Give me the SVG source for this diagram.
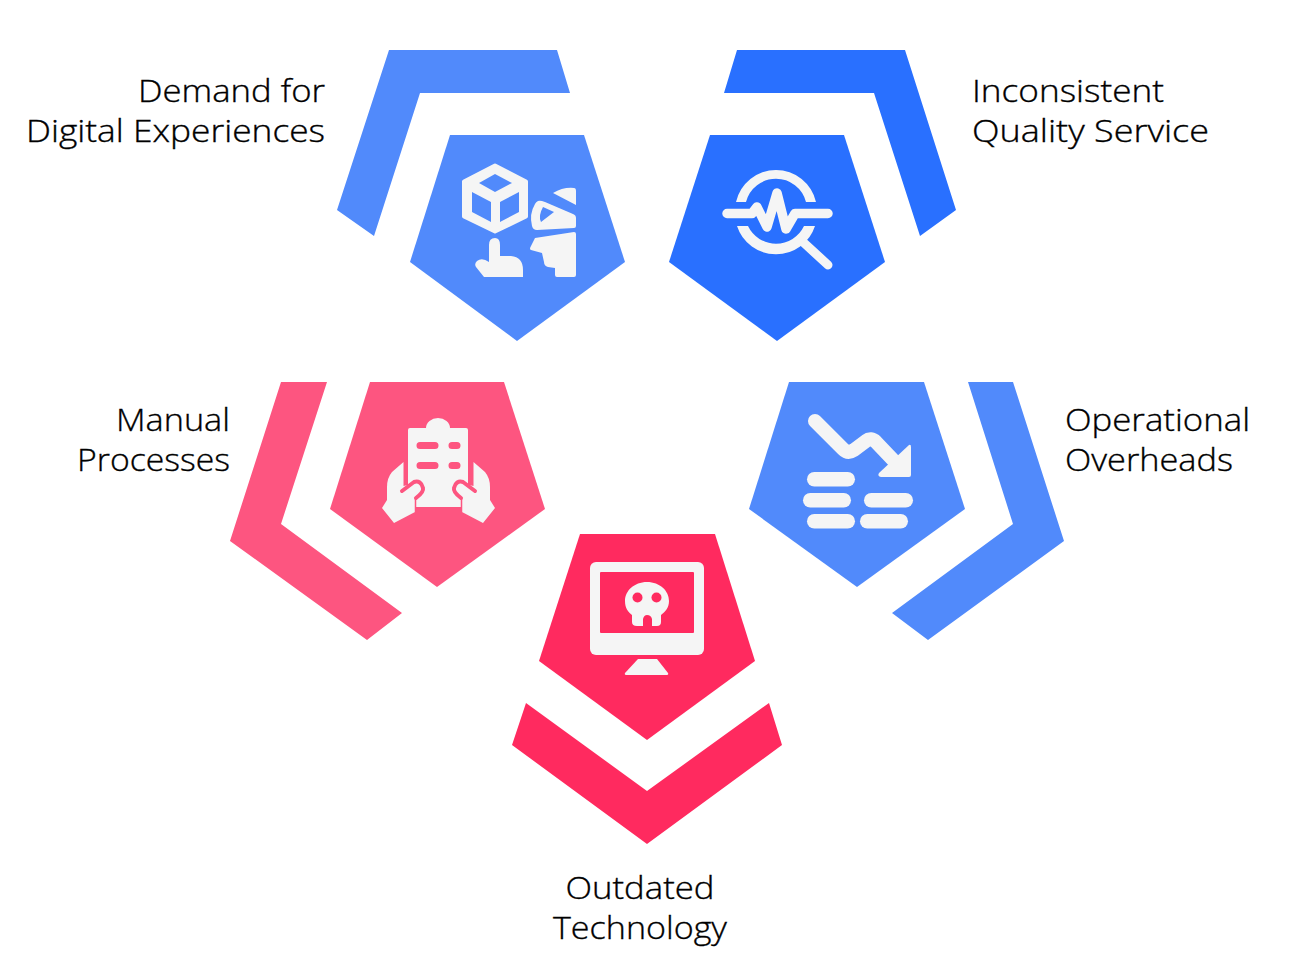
<svg xmlns="http://www.w3.org/2000/svg" width="1300" height="978" viewBox="0 0 1300 978">
<style>
.lb{font-family:"Open Sans","Liberation Sans",sans-serif;font-size:32px;font-weight:300;fill:#000;stroke:#000;stroke-width:.35px}
.i{fill:#f5f5f5}
.s{fill:none;stroke:#f5f5f5;stroke-linecap:round;stroke-linejoin:round}
.a{fill:#518afb}.b{fill:#2970ff}.c{fill:#fd5580}.d{fill:#ff2a5f}
.n{fill:none;stroke:#fd5580;stroke-width:4;stroke-linecap:round;stroke-linejoin:round}
</style>
<rect width="1300" height="978" fill="#fff"/>
<g id="node-demand">
<polygon class="a" points="389,50 557,50 570,93 420,93 374,236 337,210"/>
<polygon class="a" points="450,135 584,135 625,262 517,341 410,262"/>
<path class="i" stroke="#f5f5f5" stroke-width="4" stroke-linejoin="round" d="M495,165.500L526,181.500V216.500L495,231.500L464,216.500V181.500Z"/>
<path class="a" d="M495,174L512,183L495,192L479,183ZM472,192L491,202V222L472,212ZM500,202L519,192V212L500,222Z"/>
<path class="i" d="M553,193Q563,187 574,188Q576,188 576,191V205Z"/>
<path class="i" fill-rule="evenodd" d="M538,201Q540,200 545,202L573,214Q576,215 576,218V226Q576,228 574,228L537,230Q533,230 532,226Q529,214 535,204Q536,202 538,201ZM543,207L554,212L541,222Q538,216 543,207Z"/>
<path class="i" d="M535,238L574,232Q576,232 576,234V275Q576,277 574,277H557Q555,277 555,275V268L548,267Q544,266 544,262L542,253L531,250Q529,249 531,246Z"/>
<path class="i" d="M489,245Q489,238 495,238Q500,238 500,245V256H511Q523,257 523,270V277H484L476,267Q474,264 477,261Q482,257 489,262Z"/>
</g>
<g id="node-inconsistent">
<polygon class="b" points="737,50 905,50 956,210 920,236 874,93 724,93"/>
<polygon class="b" points="710,135 844,135 885,262 777,341 669,262"/>
<path class="i" d="M736,202A41,41 0 0 1 816,202H806A31,31 0 0 0 746,202Z"/>
<path class="i" d="M737,226H748A31,31 0 0 0 804,226H815A41,41 0 0 1 737,226Z"/>
<path class="s" stroke-width="9.500" d="M727,213.500H752L757,207L767,227L777,193L786,229L795,213.500H828"/>
<path class="s" stroke-width="9" d="M803,242L828,265"/>
</g>
<g id="node-manual">
<polygon class="c" points="281,382 327,382 281,524 402,613 367,640 230,541"/>
<polygon class="c" points="370,382 504,382 545,509 437,587 330,509"/>
<path class="i" d="M410,428H426A12,10 0 0 1 450,428H466Q468,428 468,430V507H408V430Q408,428 410,428Z"/>
<path class="c" d="M420,442H435A3.500,3.500 0 0 1 435,449H420A3.500,3.500 0 0 1 420,442ZM452,442H457A3.500,3.500 0 0 1 457,449H452A3.500,3.500 0 0 1 452,442ZM420,462H435A3.500,3.500 0 0 1 435,469H420A3.500,3.500 0 0 1 420,462ZM452,462H457A3.500,3.500 0 0 1 457,469H452A3.500,3.500 0 0 1 452,462Z"/>
<path class="i" d="M403.500,462V486L412,484L423,490L415,498V512L394,523L382,508L387,500L387,487Q387,478 392,472Z"/>
<path class="i" d="M473.500,462V486L465,484L454,490L462,498V512L483,523L495,508L490,500L490,487Q490,478 485,472Z"/>
<path class="n" d="M402,491L414,482Q421,480 423,488Q424,492 416,498"/>
<path class="n" d="M475,491L463,482Q456,480 454,488Q453,492 461,498"/>
<path fill="none" stroke="#fd5580" stroke-width="1.500" d="M415.500,498V512M461.500,498V512"/>
</g>
<g id="node-operational">
<polygon class="a" points="968,382 1013,382 1064,541 928,640 892,613 1013,524"/>
<polygon class="a" points="789,382 924,382 965,509 857,587 749,509"/>
<path class="s" stroke-width="14" d="M815,421L843,449Q848,454 854,450L866,441Q871,437 876,442L896,463"/>
<path class="i" d="M909,445Q911,444 911,447V475Q911,477 909,477H881Q877,476 879,473Z"/>
<rect class="i" x="807" y="472" width="48" height="14.500" rx="7.250"/>
<rect class="i" x="803" y="493" width="48" height="14.500" rx="7.250"/>
<rect class="i" x="864" y="493" width="49" height="14.500" rx="7.250"/>
<rect class="i" x="807" y="514" width="48" height="14.500" rx="7.250"/>
<rect class="i" x="860" y="514" width="48" height="14.500" rx="7.250"/>
</g>
<g id="node-outdated">
<polygon class="d" points="526,703 647,791 769,703 782,745 647,844 512,745"/>
<polygon class="d" points="580,534 715,534 755,661 647,740 539,661"/>
<rect class="i" x="590" y="562" width="114" height="93" rx="6"/>
<rect class="d" x="600" y="572" width="94" height="61" rx="1"/>
<path class="i" d="M647,582C660,582 669,591 669,601C669,608 665,612 661,615V622Q661,626 657,626H652V619Q651,615 647,615Q644,615 643,619V626H637Q632,626 632,622V615C628,612 625,608 625,601C625,591 634,582 647,582Z"/>
<circle class="d" cx="637.500" cy="597.500" r="5"/>
<circle class="d" cx="656.500" cy="597.500" r="5"/>
<path class="i" d="M638,659H657L668,673Q669,675 666,675H627Q624,675 625,673Z"/>
</g>
<g id="connectors"></g>
<g id="labels">
<text class="lb" x="325" y="102" text-anchor="end" textLength="187" lengthAdjust="spacingAndGlyphs">Demand for</text>
<text class="lb" x="325" y="142" text-anchor="end" textLength="299" lengthAdjust="spacingAndGlyphs">Digital Experiences</text>
<text class="lb" x="972" y="102" textLength="192" lengthAdjust="spacingAndGlyphs">Inconsistent</text>
<text class="lb" x="972" y="142" textLength="237" lengthAdjust="spacingAndGlyphs">Quality Service</text>
<text class="lb" x="230" y="431" text-anchor="end" textLength="114" lengthAdjust="spacingAndGlyphs">Manual</text>
<text class="lb" x="230" y="471" text-anchor="end" textLength="153" lengthAdjust="spacingAndGlyphs">Processes</text>
<text class="lb" x="1065" y="431" textLength="185" lengthAdjust="spacingAndGlyphs">Operational</text>
<text class="lb" x="1065" y="471" textLength="168" lengthAdjust="spacingAndGlyphs">Overheads</text>
<text class="lb" x="640" y="899" text-anchor="middle" textLength="149" lengthAdjust="spacingAndGlyphs">Outdated</text>
<text class="lb" x="640" y="939" text-anchor="middle" textLength="174" lengthAdjust="spacingAndGlyphs">Technology</text>
</g>
</svg>
